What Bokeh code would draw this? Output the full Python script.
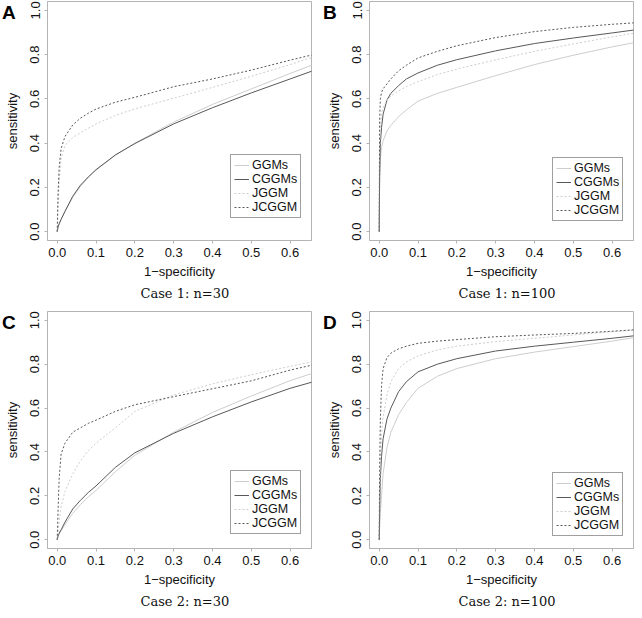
from bokeh.plotting import figure
from bokeh.models import (Range1d, FixedTicker, NumeralTickFormatter, Title,
                          GridBox, Div)
from bokeh.embed import file_html
from bokeh.resources import INLINE

# ---------------- data ----------------
methods = ["GGMs", "CGGMs", "JGGM", "JCGGM"]
x_ticks = [0.0, 0.1, 0.2, 0.3, 0.4, 0.5, 0.6]
y_ticks = [0.0, 0.2, 0.4, 0.6, 0.8, 1.0]

# 1-specificity grids
fpr_n30 = [0, 0.002, 0.005, 0.01, 0.02, 0.04, 0.06, 0.08, 0.1, 0.15, 0.2, 0.3, 0.4, 0.5, 0.6, 0.66]
fpr_n100 = [0, 0.001, 0.003, 0.006, 0.01, 0.02, 0.03, 0.05, 0.07, 0.1, 0.15, 0.2, 0.3, 0.4, 0.5, 0.6, 0.66]

# Case 1, n=30 (sensitivity)
c1n30_GGMs = [0, 0.02, 0.035, 0.055, 0.09, 0.155, 0.205, 0.245, 0.278, 0.345, 0.4, 0.495, 0.575, 0.645, 0.715, 0.755]
c1n30_CGGMs = [0, 0.02, 0.035, 0.055, 0.092, 0.16, 0.21, 0.247, 0.28, 0.347, 0.398, 0.487, 0.56, 0.627, 0.69, 0.728]
c1n30_JGGM = [0, 0.1, 0.22, 0.33, 0.39, 0.425, 0.447, 0.467, 0.487, 0.525, 0.555, 0.603, 0.652, 0.702, 0.755, 0.79]
c1n30_JCGGM = [0, 0.16, 0.29, 0.375, 0.43, 0.482, 0.513, 0.535, 0.554, 0.585, 0.607, 0.655, 0.69, 0.73, 0.775, 0.80]

# Case 1, n=100
c1n100_GGMs = [0, 0.2, 0.33, 0.38, 0.41, 0.455, 0.48, 0.52, 0.55, 0.59, 0.625, 0.652, 0.705, 0.755, 0.797, 0.835, 0.855]
c1n100_CGGMs = [0, 0.25, 0.4, 0.47, 0.53, 0.595, 0.625, 0.66, 0.69, 0.717, 0.752, 0.777, 0.817, 0.85, 0.875, 0.898, 0.912]
c1n100_JGGM = [0, 0.35, 0.48, 0.53, 0.56, 0.595, 0.612, 0.637, 0.655, 0.678, 0.71, 0.735, 0.776, 0.815, 0.848, 0.88, 0.898]
c1n100_JCGGM = [0, 0.5, 0.6, 0.63, 0.645, 0.668, 0.69, 0.727, 0.752, 0.785, 0.815, 0.84, 0.877, 0.904, 0.923, 0.937, 0.944]

# Case 2, n=30
c2n30_GGMs = [0, 0.012, 0.025, 0.04, 0.07, 0.12, 0.16, 0.195, 0.225, 0.31, 0.385, 0.49, 0.58, 0.655, 0.725, 0.76]
c2n30_CGGMs = [0, 0.015, 0.03, 0.045, 0.08, 0.14, 0.18, 0.215, 0.245, 0.33, 0.396, 0.485, 0.56, 0.628, 0.69, 0.72]
c2n30_JGGM = [0, 0.03, 0.08, 0.15, 0.22, 0.3, 0.36, 0.405, 0.44, 0.51, 0.585, 0.66, 0.71, 0.752, 0.79, 0.812]
c2n30_JCGGM = [0, 0.12, 0.28, 0.39, 0.44, 0.49, 0.51, 0.53, 0.545, 0.585, 0.615, 0.652, 0.688, 0.724, 0.773, 0.797]

# Case 2, n=100
c2n100_GGMs = [0, 0.05, 0.12, 0.2, 0.3, 0.42, 0.49, 0.57, 0.625, 0.69, 0.745, 0.78, 0.825, 0.855, 0.88, 0.905, 0.922]
c2n100_CGGMs = [0, 0.12, 0.28, 0.38, 0.46, 0.55, 0.6, 0.675, 0.72, 0.765, 0.8, 0.825, 0.86, 0.882, 0.9, 0.918, 0.93]
c2n100_JGGM = [0, 0.15, 0.35, 0.48, 0.56, 0.66, 0.72, 0.78, 0.81, 0.838, 0.865, 0.882, 0.903, 0.918, 0.933, 0.948, 0.955]
c2n100_JCGGM = [0, 0.3, 0.55, 0.7, 0.78, 0.83, 0.85, 0.87, 0.882, 0.895, 0.905, 0.912, 0.925, 0.933, 0.94, 0.95, 0.957]

letters = ["A", "B", "C", "D"]
captions = ["Case 1: n=30", "Case 1: n=100", "Case 2: n=30", "Case 2: n=100"]

# ---------------- styling ----------------
LIGHT = "#cdcdcd"
DARK = "#585858"
FRAME = "#b4b4b4"
styles = {
    "GGMs": dict(color=LIGHT, dash="solid"),
    "CGGMs": dict(color=DARK, dash="solid"),
    "JGGM": dict(color=LIGHT, dash="2 2"),
    "JCGGM": dict(color=DARK, dash="2 2"),
}
SANS = "Liberation Sans"

FRAME_W = 264
FRAME_H = 239


def make_panel(idx, fpr, curves, left_col, top_row, legend_gap):
    mbl, mbr = (47, 6) if left_col else (52, 1)
    mbt, mbb = (1, 65) if top_row else (6, 60)
    H = mbt + FRAME_H + mbb
    p = figure(width=mbl + FRAME_W + mbr, height=H,
               x_range=Range1d(-0.025, 0.655), y_range=Range1d(-0.04, 1.04),
               output_backend="svg", toolbar_location=None,
               min_border_left=mbl, min_border_right=mbr,
               min_border_top=mbt, min_border_bottom=mbb)
    p.grid.visible = False
    p.outline_line_color = FRAME
    p.outline_line_width = 1
    p.background_fill_color = "white"
    p.border_fill_color = "white"

    for name, ys in zip(methods, curves):
        st = styles[name]
        p.line(fpr, ys, line_color=st["color"], line_dash=st["dash"],
               line_width=1, legend_label=name)

    xa = p.xaxis[0]
    xa.ticker = FixedTicker(ticks=x_ticks)
    xa.formatter = NumeralTickFormatter(format="0.0")
    xa.axis_label = "1\u2212specificity"
    ya = p.yaxis[0]
    ya.ticker = FixedTicker(ticks=y_ticks)
    ya.formatter = NumeralTickFormatter(format="0.0")
    ya.axis_label = "sensitivity"
    ya.major_label_orientation = "vertical"
    for ax in (xa, ya):
        ax.axis_line_color = FRAME
        ax.major_tick_line_color = FRAME
        ax.major_tick_out = 3
        ax.major_tick_in = 0
        ax.minor_tick_line_color = None
        ax.major_label_text_font = SANS
        ax.major_label_text_font_size = "13px"
        ax.major_label_text_color = "#111111"
        ax.axis_label_text_font = SANS
        ax.axis_label_text_font_size = "13px"
        ax.axis_label_text_font_style = "normal"
        ax.axis_label_text_color = "#111111"
    xa.major_label_standoff = 4
    xa.axis_label_standoff = 4
    ya.major_label_standoff = 5
    ya.axis_label_standoff = 8

    lg = p.legend[0]
    lg.location = (FRAME_W - 8 - 73, legend_gap)
    lg.padding = 3
    lg.spacing = 0
    lg.margin = 0
    lg.glyph_width = 15
    lg.glyph_height = 12
    lg.label_standoff = 3
    lg.label_height = 12
    lg.label_text_font = SANS
    lg.label_text_font_size = "12.5px"
    lg.label_text_color = "#111111"
    lg.border_line_color = "#404040"
    lg.border_line_width = 1
    lg.background_fill_color = "white"
    lg.background_fill_alpha = 1.0

    # caption under the x-axis label
    cap_w = 96 if captions[idx].endswith("=30") else 104
    cap = Title(text=captions[idx], align="left", offset=FRAME_W / 2 + 9 - cap_w / 2,
                text_font="DejaVu Serif", text_font_size="13px",
                text_font_style="normal", text_color="#111111", standoff=4)
    p.add_layout(cap, "below")
    return p


def letter_div(idx, top, left):
    return Div(text=letters[idx], width=18, height=22, margin=(top, 0, 0, left),
               styles={"font-family": SANS, "font-weight": "bold",
                       "font-size": "19px", "line-height": "22px",
                       "color": "black"})


pA = make_panel(0, fpr_n30, [c1n30_GGMs, c1n30_CGGMs, c1n30_JGGM, c1n30_JCGGM], True, True, 22)
pB = make_panel(1, fpr_n100, [c1n100_GGMs, c1n100_CGGMs, c1n100_JGGM, c1n100_JCGGM], False, True, 19)
pC = make_panel(2, fpr_n30, [c2n30_GGMs, c2n30_CGGMs, c2n30_JGGM, c2n30_JCGGM], True, False, 14)
pD = make_panel(3, fpr_n100, [c2n100_GGMs, c2n100_CGGMs, c2n100_JGGM, c2n100_JCGGM], False, False, 12)

grid = GridBox(children=[
    (pA, 0, 0), (pB, 0, 1), (pC, 1, 0), (pD, 1, 1),
    (letter_div(0, 2, 2), 0, 0), (letter_div(1, 2, 6), 0, 1),
    (letter_div(2, 7, 2), 1, 0), (letter_div(3, 7, 6), 1, 1),
], spacing=0)

open("out.html", "w").write(file_html(grid, INLINE))
